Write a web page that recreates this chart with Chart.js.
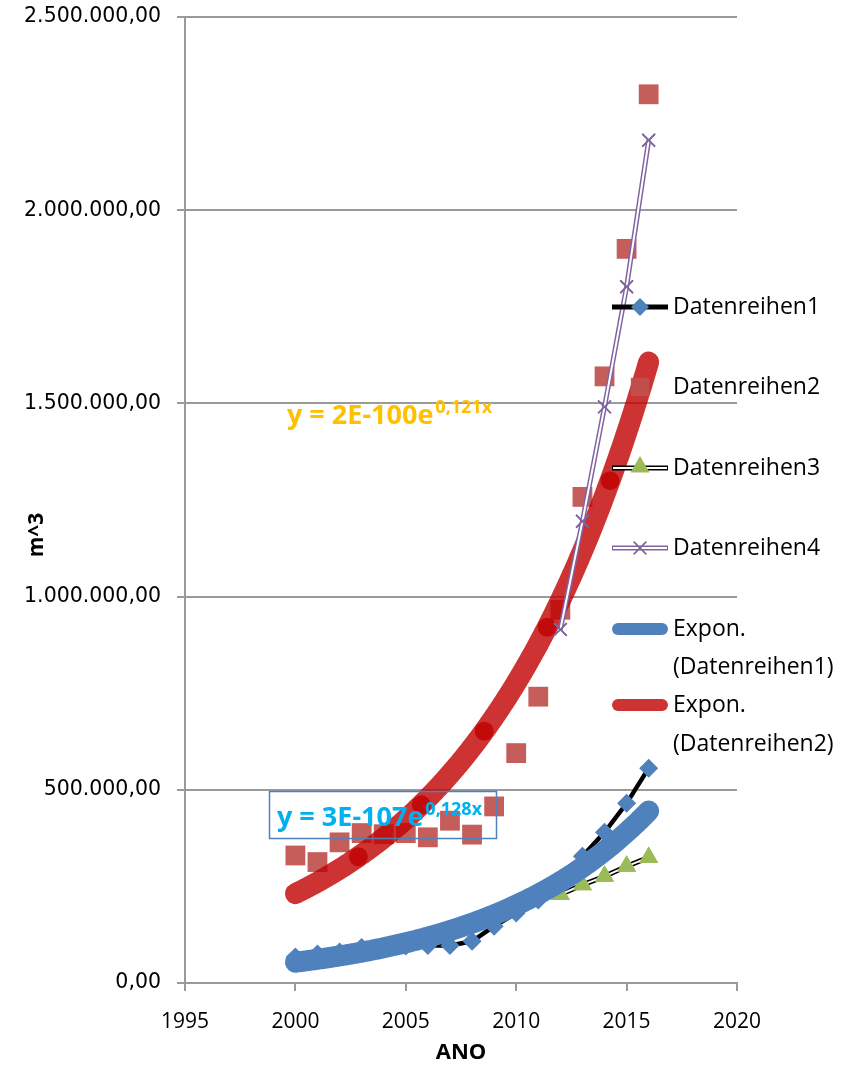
<!DOCTYPE html>
<html>
<head>
<meta charset="utf-8">
<script src="https://cdn.jsdelivr.net/npm/chart.js@4.4.1/dist/chart.umd.min.js"></script>
<style>
  html, body { margin: 0; padding: 0; background: #ffffff; }
  #wrap { position: relative; width: 850px; height: 1069px; }
</style>
</head>
<body>
<div id="wrap"><canvas id="c" width="850" height="1069"></canvas></div>
<script>
// ---- data ----
const years = [2000, 2001, 2002, 2003, 2004, 2005, 2006, 2007, 2008, 2009, 2010, 2011, 2012, 2013, 2014, 2015, 2016];
const datenreihen1 = [67000, 75000, 80000, 92000, 92000, 96000, 97000, 97000, 108000, 147000, 181000, 215000, 266000, 328000, 390000, 465000, 556000];
const datenreihen2 = [330000, 313000, 364000, 388000, 385000, 388000, 377000, 420000, 384000, 457000, 595000, 741000, 966000, 1258000, 1570000, 1900000, 2300000];
const years34 = [2012, 2013, 2014, 2015, 2016];
const datenreihen3 = [229000, 254000, 276000, 302000, 325000];
const datenreihen4 = [915000, 1195000, 1491000, 1802000, 2181000];
const xTicks = [1995, 2000, 2005, 2010, 2015, 2020];
const yTicks = [0, 500000, 1000000, 1500000, 2000000, 2500000];
const seriesNames = ['Datenreihen1', 'Datenreihen2', 'Datenreihen3', 'Datenreihen4'];
const trendNames = [['Expon.', '(Datenreihen1)'], ['Expon.', '(Datenreihen2)']];
const equation1 = ['y = 3E-107e', '0,128x'];
const equation2 = ['y = 2E-100e', '0,121x'];
const xTitle = 'ANO';
const yTitle = 'm^3';

// ---- helpers ----
const pts = (xs, ys) => xs.map((x, i) => ({ x: x, y: ys[i] }));

// least squares fit of ln(y) = a + b*x, as used for an exponential trendline
function expFit(xs, ys) {
  const n = xs.length;
  const ly = ys.map(Math.log);
  const mx = xs.reduce((s, v) => s + v, 0) / n;
  const my = ly.reduce((s, v) => s + v, 0) / n;
  let sxy = 0, sxx = 0;
  for (let i = 0; i < n; i++) { sxy += (xs[i] - mx) * (ly[i] - my); sxx += (xs[i] - mx) * (xs[i] - mx); }
  const b = sxy / sxx, a = my - b * mx;
  return x => Math.exp(a + b * x);
}
const TREND_STEP = 0.05;
function trendPoints(xs, ys) {
  const f = expFit(xs, ys);
  const x0 = xs[0], x1 = xs[xs.length - 1];
  const n = Math.round((x1 - x0) / TREND_STEP);
  const out = [];
  for (let i = 0; i <= n; i++) { const x = x0 + i * TREND_STEP; out.push({ x: x, y: f(x) }); }
  return out;
}
function deNum(v) {
  return Math.round(v).toString().replace(/\B(?=(\d{3})+(?!\d))/g, '.') + ',00';
}

const BLUE = '#4F81BD', RED_SQ = 'rgba(192,80,77,0.92)', RED_TREND = 'rgba(192,0,0,0.8)';
const GREEN = '#9BBB59', PURPLE = '#8064A2', GRID = '#9a9a9a';
const JOINT_EVERY = 57; // darker overlap spots along the translucent trend stroke

const datasets = [
  { label: seriesNames[3], data: pts(years34, datenreihen4), showLine: true,
    borderColor: PURPLE, borderWidth: 5, innerLineColor: '#ffffff', innerLineWidth: 2,
    pointStyle: 'crossRot', pointRadius: 9, pointBorderColor: PURPLE, pointBorderWidth: 1.6,
    pointBackgroundColor: PURPLE, order: 0 },
  { label: 'Expon. (Datenreihen2)', data: trendPoints(years, datenreihen2), showLine: true,
    borderColor: RED_TREND, borderWidth: 21, borderCapStyle: 'round', borderJoinStyle: 'round',
    pointRadius: c => (c.dataIndex > 0 && c.dataIndex % JOINT_EVERY === 0) ? 9.5 : 0,
    pointBackgroundColor: RED_TREND, pointBorderWidth: 0, order: 1 },
  { label: 'Expon. (Datenreihen1)', data: trendPoints(years, datenreihen1), showLine: true,
    borderColor: BLUE, borderWidth: 21, borderCapStyle: 'round', borderJoinStyle: 'round',
    pointRadius: 0, order: 2 },
  { label: seriesNames[2], data: pts(years34, datenreihen3), showLine: true,
    borderColor: '#000000', borderWidth: 5, innerLineColor: '#ffffff', innerLineWidth: 2,
    pointStyle: 'triangle', pointRadius: 11, pointBackgroundColor: GREEN, pointBorderWidth: 0, order: 3 },
  { label: seriesNames[0], data: pts(years, datenreihen1), showLine: true,
    borderColor: '#000000', borderWidth: 4.5,
    pointStyle: 'rectRot', pointRadius: 9.5, pointBackgroundColor: BLUE, pointBorderWidth: 0, order: 4 },
  { label: seriesNames[1], data: pts(years, datenreihen2), showLine: false,
    pointStyle: 'rect', pointRadius: 14, pointBackgroundColor: RED_SQ, pointBorderWidth: 0, order: 5 }
];

// compound (double) strokes: an inner white line over the outer one, markers redrawn on top
const doubleLine = {
  id: 'doubleLine',
  afterDatasetDraw(chart, args) {
    const ds = chart.data.datasets[args.index];
    if (!ds.innerLineColor) return;
    const ctx = chart.ctx, pts = args.meta.data, a = chart.chartArea;
    ctx.save();
    ctx.beginPath(); ctx.rect(a.left, a.top, a.right - a.left, a.bottom - a.top); ctx.clip();
    ctx.beginPath();
    pts.forEach((p, i) => i ? ctx.lineTo(p.x, p.y) : ctx.moveTo(p.x, p.y));
    ctx.strokeStyle = ds.innerLineColor; ctx.lineWidth = ds.innerLineWidth;
    ctx.lineJoin = 'round'; ctx.lineCap = 'butt';
    ctx.stroke();
    ctx.restore();
    pts.forEach(p => p.draw(ctx, a));
  }
};

function marker(ctx, style, r, fill, stroke, bw, x, y) {
  ctx.save();
  ctx.fillStyle = fill; ctx.strokeStyle = stroke || fill; ctx.lineWidth = bw || 0;
  Chart.helpers.drawPoint(ctx, { pointStyle: style, radius: r, borderWidth: bw || 0, rotation: 0 }, x, y);
  ctx.restore();
}
function seg(ctx, x0, x1, y, color, w, cap) {
  ctx.save();
  ctx.beginPath(); ctx.moveTo(x0, y); ctx.lineTo(x1, y);
  ctx.strokeStyle = color; ctx.lineWidth = w; ctx.lineCap = cap || 'butt'; ctx.stroke();
  ctx.restore();
}

// legend, equations and y title drawn over the plot
const overlay = {
  id: 'overlay',
  afterDraw(chart) {
    const ctx = chart.ctx;
    const L0 = 612, L1 = 668, LM = 640, TX = 673;
    const rows = [307, 387, 468, 548, 629, 705];
    ctx.save();
    // legend samples
    seg(ctx, L0, L1, rows[0], '#000', 5);
    marker(ctx, 'rectRot', 9, BLUE, null, 0, LM, rows[0]);
    marker(ctx, 'rect', 13, RED_SQ, null, 0, LM, rows[1]);
    seg(ctx, L0, L1, rows[2], '#000', 5); seg(ctx, L0 + 1, L1 - 1, rows[2], '#fff', 2);
    marker(ctx, 'triangle', 11, GREEN, null, 0, LM, rows[2] - 1);
    seg(ctx, L0, L1, rows[3], PURPLE, 5); seg(ctx, L0 + 1, L1 - 1, rows[3], '#fff', 2);
    marker(ctx, 'crossRot', 9, PURPLE, PURPLE, 1.6, LM, rows[3]);
    seg(ctx, L0 + 6, L1 - 6, rows[4], BLUE, 12, 'round');
    seg(ctx, L0 + 6, L1 - 6, rows[5], 'rgb(205,51,51)', 12, 'round');
    // legend text
    ctx.fillStyle = '#000';
    ctx.font = '23px "Open Sans"';
    ctx.textBaseline = 'middle'; ctx.textAlign = 'left';
    seriesNames.forEach((s, i) => ctx.fillText(s, TX, rows[i]));
    ctx.fillText(trendNames[0][0], TX, rows[4]); ctx.fillText(trendNames[0][1], TX, rows[4] + 38);
    ctx.fillText(trendNames[1][0], TX, rows[5]); ctx.fillText(trendNames[1][1], TX, rows[5] + 39);

    // trend equations
    function eq(parts, x, y, color) {
      ctx.fillStyle = color; ctx.textBaseline = 'alphabetic'; ctx.textAlign = 'left';
      ctx.font = 'bold 27px "Open Sans"';
      ctx.fillText(parts[0], x, y);
      const w = ctx.measureText(parts[0]).width;
      ctx.font = 'bold 18px "Open Sans"';
      ctx.fillText(parts[1], x + w + 2, y - 11);
    }
    eq(equation2, 287, 424, '#FFC000');
    eq(equation1, 277, 826, '#00B0F0');
    ctx.strokeStyle = BLUE; ctx.lineWidth = 1.5;
    ctx.strokeRect(269.5, 791.5, 227, 47);

    // y axis title
    ctx.translate(37, 535); ctx.rotate(-Math.PI / 2);
    ctx.fillStyle = '#000'; ctx.font = 'bold 21px "Open Sans"';
    ctx.textAlign = 'center'; ctx.textBaseline = 'middle';
    ctx.fillText(yTitle, 0, 0);
    ctx.restore();
  }
};

function build() {
  new Chart(document.getElementById('c'), {
    type: 'scatter',
    data: { datasets: datasets },
    plugins: [doubleLine, overlay],
    options: {
      responsive: false, animation: false, events: [],
      layout: { padding: { top: 17, right: 113, left: 0, bottom: 0 } },
      plugins: { legend: { display: false }, tooltip: { enabled: false } },
      scales: {
        x: {
          type: 'linear', min: xTicks[0], max: xTicks[xTicks.length - 1],
          afterBuildTicks: s => { s.ticks = xTicks.map(v => ({ value: v })); },
          afterFit: s => { s.height = 86; },
          grid: { drawOnChartArea: false, drawTicks: true, tickLength: 8, color: GRID, lineWidth: 2 },
          border: { display: true, color: GRID, width: 2 },
          ticks: { callback: v => String(v), color: '#000', padding: 18, maxRotation: 0,
                   font: { family: '"Open Sans"', size: 21 } },
          title: { display: true, text: xTitle, color: '#000', padding: { top: 0, bottom: 3 },
                   font: { family: '"Open Sans"', size: 22, weight: 'bold' } }
        },
        y: {
          type: 'linear', min: yTicks[0], max: yTicks[yTicks.length - 1],
          afterBuildTicks: s => { s.ticks = yTicks.map(v => ({ value: v })); },
          afterFit: s => { s.width = 185; s.paddingTop = 0; s.paddingBottom = 0; },
          grid: { drawTicks: true, tickLength: 8, color: GRID, lineWidth: 2 },
          border: { display: true, color: GRID, width: 2 },
          ticks: { callback: v => deNum(v), color: '#000', padding: 16,
                   font: { family: '"DejaVu Sans"', size: 20.5 } }
        }
      }
    }
  });
}
const fontsReady = document.fonts ? Promise.all([
  document.fonts.load('23px "Open Sans"'), document.fonts.load('bold 27px "Open Sans"'),
  document.fonts.load('19px "DejaVu Sans"')]).catch(() => null) : Promise.resolve();
fontsReady.then(build, build);
</script>
</body>
</html>
